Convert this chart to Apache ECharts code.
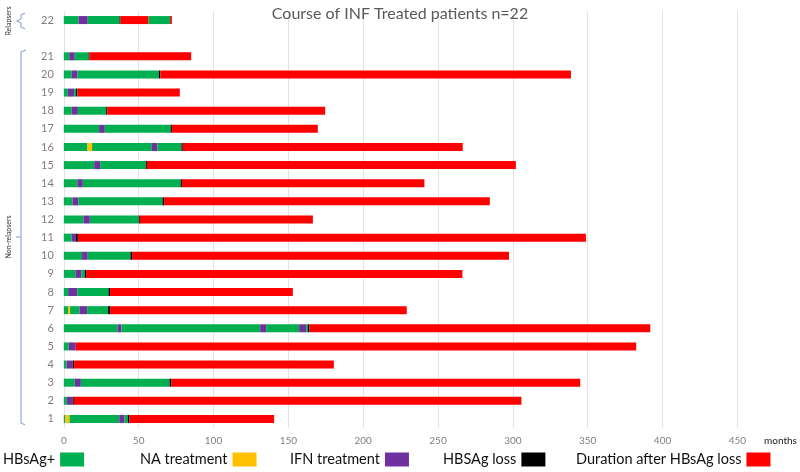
<!DOCTYPE html>
<html>
<head>
<meta charset="utf-8">
<script src="https://cdn.jsdelivr.net/npm/echarts@6/dist/echarts.min.js"></script>
<style>html,body{margin:0;padding:0;background:#fff}#c{width:800px;height:472px}</style>
</head>
<body>
<div id="c"></div>
<script>
// Categories (bottom to top); empty slot separates relapser from non-relapsers
const categories = ['1','2','3','4','5','6','7','8','9','10','11','12','13','14','15','16','17','18','19','20','21','','22'];
const xTicks = [0, 50, 100, 150, 200, 250, 300, 350, 400, 450];

// Segment type codes -> legend names
const typeCodes = ['H', 'N', 'I', 'L', 'D'];
const typeNames = ['HBsAg+', 'NA treatment', 'IFN treatment', 'HBSAg loss', 'Duration after HBsAg loss'];
const typeColors = ['#00b050', '#ffc000', '#7030a0', '#000000', '#ff0000'];

// Each patient: ordered segments [type, months]
const p1  = [['H',1.1],['N',2.7],['H',33.2],['I',3.5],['H',2.3],['L',1.1],['D',96.6]];
const p2  = [['H',2.0],['I',4.0],['L',0.7],['D',299.0]];
const p3  = [['H',7.3],['I',4.1],['H',59.2],['L',1.1],['D',273.3]];
const p4  = [['H',1.8],['I',4.2],['L',0.9],['D',173.5]];
const p5  = [['H',3.3],['I',4.7],['D',374.4]];
const p6  = [['H',35.9],['I',2.6],['H',92.7],['I',4.0],['H',22.0],['I',4.7],['H',1.1],['L',1.1],['D',227.7]];
const p7  = [['H',2.9],['N',1.3],['H',6.3],['I',5.1],['H',14.0],['L',1.3],['D',198.2]];
const p8  = [['H',2.9],['I',6.2],['H',20.7],['L',1.1],['D',122.1]];
const p9  = [['H',7.8],['I',4.0],['H',2.2],['L',0.9],['D',251.4]];
const p10 = [['H',12.2],['I',3.8],['H',28.5],['L',1.1],['D',251.8]];
const p11 = [['H',5.3],['I',2.9],['L',1.2],['D',339.4]];
const p12 = [['H',13.1],['I',4.3],['H',32.7],['L',0.7],['D',115.6]];
const p13 = [['H',5.8],['I',4.0],['H',56.1],['L',1.1],['D',217.6]];
const p14 = [['H',9.1],['I',3.6],['H',65.3],['L',0.9],['D',162.0]];
const p15 = [['H',20.3],['I',4.0],['H',30.5],['L',0.7],['D',246.5]];
const p16 = [['H',15.8],['N',3.1],['H',39.9],['I',3.8],['H',16.0],['L',0.9],['D',187.0]];
const p17 = [['H',23.6],['I',3.8],['H',43.9],['L',0.9],['D',97.5]];
const p18 = [['H',5.3],['I',4.1],['H',18.9],['L',0.7],['D',145.6]];
const p19 = [['H',2.7],['I',4.2],['H',1.3],['L',0.9],['D',68.4]];
const p20 = [['H',5.3],['I',3.8],['H',54.4],['L',1.0],['D',274.3]];
const p21 = [['H',3.6],['I',3.7],['H',9.2],['L',0.6],['D',68.0]];
const gap = [];
const p22 = [['H',9.8],['I',6.2],['H',21.2],['L',0.7],['D',18.7],['H',14.4],['D',1.2]];

const patients = [p1,p2,p3,p4,p5,p6,p7,p8,p9,p10,p11,p12,p13,p14,p15,p16,p17,p18,p19,p20,p21,gap,p22];

const maxSeg = Math.max(...patients.map(p => p.length));
const series = [];
for (let k = 0; k < maxSeg; k++) {
  typeCodes.forEach((code, ti) => {
    const data = patients.map(p => (p[k] && p[k][0] === code) ? p[k][1] : 0);
    if (data.some(v => v > 0)) {
      series.push({
        type: 'bar', name: typeNames[ti], stack: 'course', stackStrategy: 'all',
        barWidth: 8, color: typeColors[ti], itemStyle: { color: typeColors[ti] },
        data: data
      });
    }
  });
}
typeNames.forEach((n, ti) => {
  if (!series.some(s => s.name === n)) {
    series.push({ type: 'bar', name: n, stack: 'course', color: typeColors[ti], itemStyle: { color: typeColors[ti] }, data: [] });
  }
});

const legendLefts = [3, 140, 290, 443, 576];
const legends = typeNames.map((n, i) => ({
  data: [n], left: legendLefts[i], top: 452, align: 'right', selectedMode: false, padding: 0,
  itemWidth: 24, itemHeight: 14, icon: 'rect',
  textStyle: { fontFamily: 'Lato', fontSize: 14.5, color: '#111' }
}));

const bracketColor = '#8faadc';
const chart = echarts.init(document.getElementById('c'), null, { renderer: 'canvas' });
chart.setOption({
  animation: false,
  title: {
    text: 'Course of INF Treated patients n=22', left: 'center', top: 1,
    textStyle: { fontFamily: 'Lato', fontSize: 16, fontWeight: 'normal', color: '#595959' }
  },
  legend: legends,
  grid: { left: 63.8, right: 62.6, top: 11, bottom: 44, containLabel: false },
  xAxis: {
    type: 'value', min: xTicks[0], max: xTicks[xTicks.length - 1], interval: 50,
    axisLine: { show: false }, axisTick: { show: false },
    axisLabel: { color: '#7f7f7f', fontSize: 10, fontFamily: 'Lato', margin: 8 },
    splitLine: { show: true, lineStyle: { color: '#e3e3e3', width: 1 } }
  },
  yAxis: {
    type: 'category', data: categories,
    axisLine: { show: false }, axisTick: { show: false },
    axisLabel: { color: '#7f7f7f', fontSize: 11, fontFamily: 'Lato', margin: 10, interval: 0 }
  },
  graphic: [
    { type: 'text', left: 764, top: 436, style: { text: 'months', fontSize: 10, fontFamily: 'Lato', fill: '#222' } },
    { type: 'polyline', shape: { points: [[25,13],[21,15],[21,19],[17,21],[21,23],[21,27],[25,29]] },
      style: { stroke: bracketColor, lineWidth: 1.2, fill: null } },
    { type: 'polyline', shape: { points: [[26,50],[21,52],[21,423],[25,425]] },
      style: { stroke: bracketColor, lineWidth: 1.2, fill: null } },
    { type: 'line', shape: { x1: 21, y1: 237, x2: 16, y2: 237 }, style: { stroke: bracketColor, lineWidth: 1.2 } },
    { type: 'text', x: 9, y: 21, rotation: Math.PI / 2,
      style: { text: 'Relapsers', fontSize: 7, fontFamily: 'Lato', fill: '#333', align: 'center', verticalAlign: 'middle' } },
    { type: 'text', x: 9, y: 237, rotation: Math.PI / 2,
      style: { text: 'Non-relapsers', fontSize: 7, fontFamily: 'Lato', fill: '#333', align: 'center', verticalAlign: 'middle' } }
  ],
  series: series
});
</script>
</body>
</html>
